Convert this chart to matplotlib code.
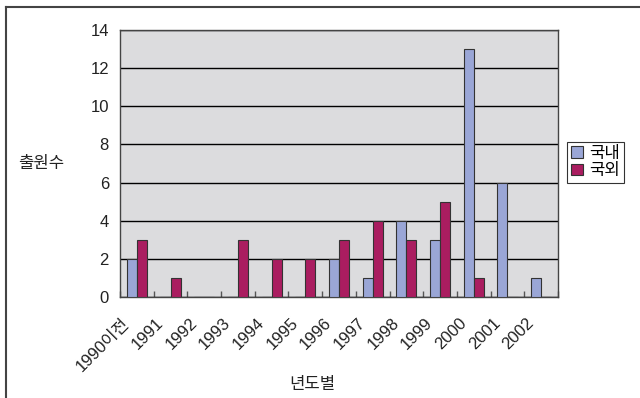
import matplotlib
matplotlib.use("Agg")
import matplotlib.pyplot as plt
import matplotlib.transforms as mtransforms
import numpy as np
from matplotlib.lines import Line2D

plt.rcParams['font.family'] = ['Liberation Sans', 'Noto Sans CJK KR', 'DejaVu Sans']

categories = ["1990이전", "1991", "1992", "1993", "1994", "1995", "1996",
              "1997", "1998", "1999", "2000", "2001", "2002"]
domestic = [2, 0, 0, 0, 0, 0, 2, 1, 4, 3, 13, 6, 1]
foreign = [3, 1, 0, 3, 2, 2, 3, 4, 3, 5, 1, 0, 0]
series_names = ["국내", "국외"]
yticks = [0, 2, 4, 6, 8, 10, 12, 14]

fig = plt.figure(figsize=(6.4, 3.98), dpi=100)
ax = fig.add_axes([120/640, 1-297/398, 438/640, (297-30)/398])
ax.set_facecolor('#DCDCDE')

x = np.arange(len(categories))
w = 0.3
blue = '#9AA6D6'
red = '#AA1D60'
ax.bar(x - w/2, domestic, w, color=blue, edgecolor='#333333', linewidth=0.8, label=series_names[0], zorder=3)
ax.bar(x + w/2, foreign, w, color=red, edgecolor='#333333', linewidth=0.8, label=series_names[1], zorder=3)

ax.set_xlim(-0.5, len(categories) - 0.5)
ax.set_ylim(0, 14)
ax.set_yticks(yticks)
ax.yaxis.grid(True, color='black', linewidth=1.0, zorder=1)
ax.set_axisbelow(True)
ax.tick_params(axis='y', length=0, labelsize=12, pad=8, colors='#222222')

ax.set_xticks(x)
ax.set_xticklabels(categories, rotation=45, ha='right', rotation_mode='anchor', fontsize=12, color='#222222')
ax.tick_params(axis='x', which='major', length=0, pad=6)
offset = mtransforms.ScaledTranslation(-15/100, -10/100, fig.dpi_scale_trans)
for lab in ax.get_xticklabels():
    lab.set_transform(lab.get_transform() + offset)
ax.set_xticks(np.arange(-0.5, len(categories), 1), minor=True)
ax.tick_params(axis='x', which='minor', direction='in', length=4, color='#555555', width=1)

for s in ax.spines.values():
    s.set_color('#444444')
    s.set_linewidth(1.0)

ax.set_ylabel("출원수", rotation=0, fontsize=12, color='#222222', va='center', ha='center')
ax.yaxis.set_label_coords(-0.18, 0.5)
ax.set_xlabel("년도별", fontsize=12, color='#222222')
ax.xaxis.set_label_coords(0.44, -0.30)

leg = ax.legend(loc='center left', bbox_to_anchor=(1.02, 0.505), frameon=True, fancybox=False,
                edgecolor='black', fontsize=12, handlelength=0.7, handleheight=0.7,
                handletextpad=0.4, borderpad=0.25, labelspacing=0.15, borderaxespad=0)
leg.get_frame().set_linewidth(0.8)

# outer border
fig.add_artist(Line2D([6/640, 6/640], [0, 1-7/398], transform=fig.transFigure, color='#444444', linewidth=1.5))
fig.add_artist(Line2D([6/640, 1], [1-7/398, 1-7/398], transform=fig.transFigure, color='#444444', linewidth=1.5))

fig.savefig("out.png", dpi=100)
